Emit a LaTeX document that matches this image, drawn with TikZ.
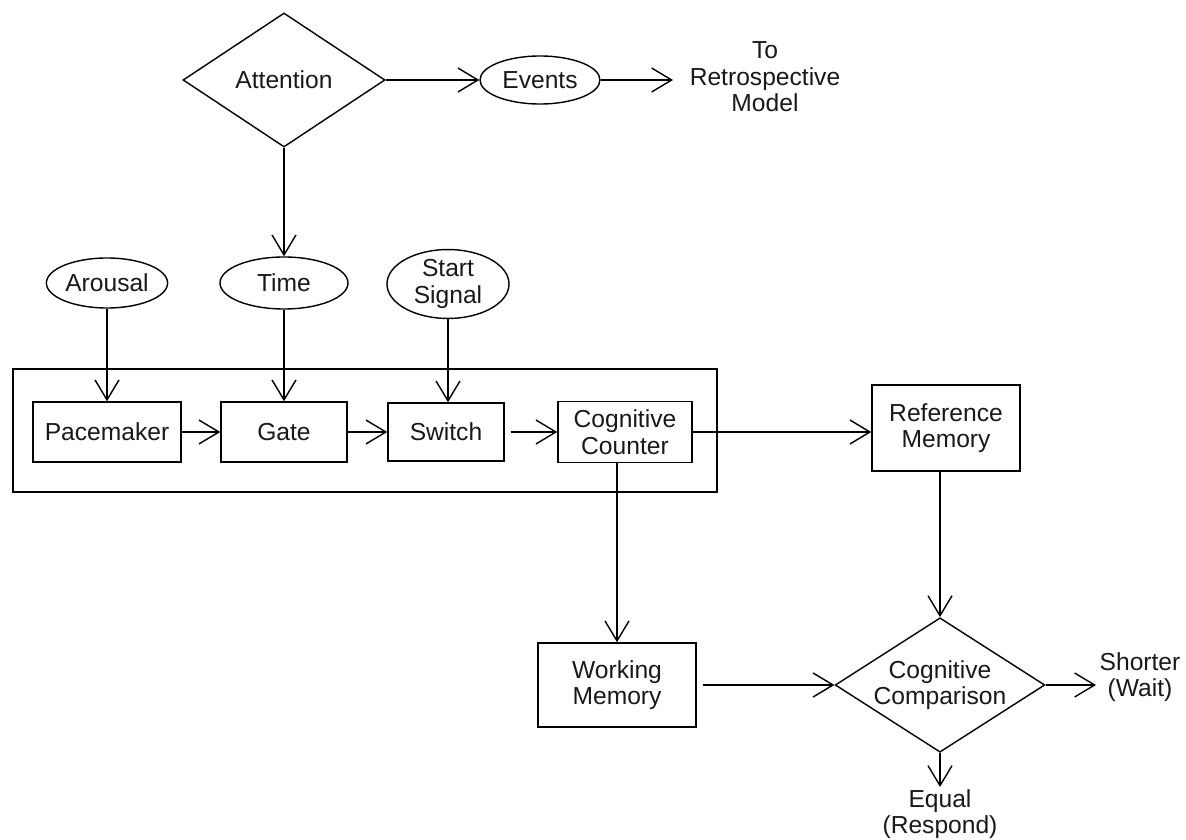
\documentclass[tikz,border=0pt]{standalone}
\usepackage{fontspec}
\setmainfont{Liberation Sans}
\usetikzlibrary{shapes.geometric,arrows.meta}
\begin{document}
\begin{tikzpicture}[x=0.025cm,y=-0.025cm,
  every node/.style={font=\fontsize{17.5}{18.8}\selectfont, align=center, inner sep=0pt, text=black!90},
  box/.style={draw, line width=1pt, rectangle},
  oval/.style={draw, line width=1pt, ellipse},
  dia/.style={draw, line width=1pt, diamond},
  conn/.style={line width=1pt, -{Straight Barb[length=0.5cm,width=0.6cm]}},
]
\useasboundingbox (0,0) rectangle (1186,840);

% top
\node[dia, aspect=1.5, minimum width=5.05cm, minimum height=3.35cm] (att) at (284,80) {Attention};
\node[oval, minimum width=3.0cm, minimum height=1.2cm] (ev) at (540,80) {Events};
\node (retro) at (765,77) {To\\Retrospective\\Model};
\coordinate (retroin) at (673,80);

% inputs
\node[oval, minimum width=3.03cm, minimum height=1.25cm] (aro) at (107,283) {Arousal};
\node[oval, minimum width=3.2cm, minimum height=1.3cm] (time) at (284,283) {Time};
\node[oval, minimum width=3.05cm, minimum height=1.5cm] (start) at (448,284) {Start\\Signal};

% frame
\node[box, minimum width=17.6cm, minimum height=3.075cm] (frame) at (365,430.5) {};

% clock chain
\node[box, minimum width=3.7cm, minimum height=1.5cm] (pace) at (107,432) {Pacemaker};
\node[box, minimum width=3.15cm, minimum height=1.5cm] (gate) at (284,432) {Gate};
\node[box, minimum width=2.9cm, minimum height=1.45cm] (sw) at (446,432) {Switch};
\node[box, minimum width=3.35cm, minimum height=1.525cm] (cc) at (625,432) {Cognitive\\Counter};

% memories
\node[box, minimum width=3.7cm, minimum height=2.15cm] (rm) at (946,428) {Reference\\Memory};
\node[box, minimum width=3.95cm, minimum height=2.1cm] (wm) at (617,685) {Working\\Memory};

% comparison
\node[dia, aspect=1.56, minimum width=5.15cm, minimum height=3.3cm] (cmp) at (940,685) {Cognitive\\Comparison};
\node (short) at (1140,677) {Shorter\\(Wait)};
\coordinate (shortin) at (1096,685);
\node (equal) at (940,814) {Equal\\(Respond)};
\coordinate (equalin) at (940,787);

% connectors
\draw[conn] (att.east) -- (ev.west);
\draw[conn] (ev.east) -- (retroin);
\draw[conn] (att.south) -- (time.north);
\draw[conn] (aro.south) -- (pace.north);
\draw[conn] (time.south) -- (gate.north);
\draw[conn] (start.south) -- (start.south |- sw.north);
\draw[conn] (pace.east) -- (gate.west);
\draw[conn] (gate.east) -- (sw.west);
\draw[conn, shorten <=0.15cm] (sw.east) -- (cc.west);
\draw[conn] (cc.east) -- (rm.west |- cc.east);
\draw[conn] (wm.north |- cc.south) -- (wm.north);
\draw[conn] (cmp.north |- rm.south) -- (cmp.north);
\draw[conn, shorten <=0.15cm] (wm.east) -- (cmp.west);
\draw[conn] (cmp.east) -- (shortin);
\draw[conn] (cmp.south) -- (equalin);
\end{tikzpicture}
\end{document}
